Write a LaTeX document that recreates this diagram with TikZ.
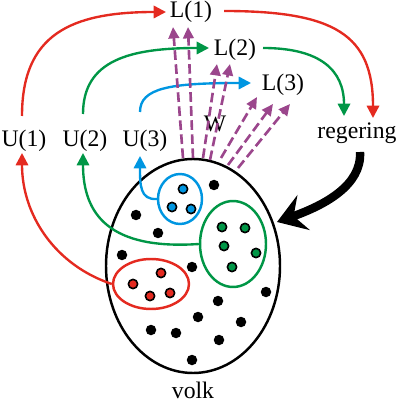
\documentclass[tikz,border=0pt]{standalone}
\usepackage{fontspec}
\setmainfont{Liberation Serif}
\usetikzlibrary{arrows.meta,shapes.geometric}
\definecolor{cred}{RGB}{228,42,32}
\definecolor{cgreen}{RGB}{0,150,70}
\definecolor{cblue}{RGB}{0,150,225}
\definecolor{cpurple}{RGB}{155,70,140}
\begin{document}
\begin{tikzpicture}[x=0.02cm,y=-0.02cm,
  lab/.style={anchor=base,inner sep=0pt,font=\fontsize{13.5}{15}\selectfont},
  con/.style={line width=1.35pt,-{Triangle[length=7pt,width=7pt]}},
  grp/.style={ellipse,draw,line width=1.4pt,inner sep=0pt},
  bdot/.style={circle,fill=black,inner sep=0pt,minimum size=0.21cm},
  cdot/.style={circle,draw=black,line width=0.9pt,inner sep=0pt,minimum size=0.185cm},
  wavearrow/.style={cpurple,line width=1.5pt,dash pattern=on 5.5pt off 2.5pt,-{Triangle[length=6.5pt,width=6pt]}}
]
\useasboundingbox (0,0) rectangle (401,401);

% big ellipse
\draw[line width=1.4pt] (193,266) ellipse [x radius=87, y radius=107];

% groups
\node[grp,draw=cblue,minimum width=0.88cm,minimum height=1.0cm] (gb) at (180,199) {};
\node[grp,draw=cgreen,minimum width=1.32cm,minimum height=1.72cm] (gg) at (233,244) {};
\node[grp,draw=cred,minimum width=1.52cm,minimum height=1.0cm] (gr) at (151,284) {};

% black dots
\foreach \p/\n in {(214,185)/a,(136,215)/b,(158,233)/c,(122,255)/d,(192,267)/e,(266,292)/f,(218,301)/g,(198,317)/h,(241,322)/i,(151,330)/j,(176,333)/k,(219,340)/l,(192,360)/m}
  \node[bdot] (d\n) at \p {};
% coloured dots
\foreach \p/\n in {(183,189)/1,(172,207)/2,(191,209)/3}
  \node[cdot,fill=cblue] (db\n) at \p {};
\foreach \p/\n in {(222,227)/1,(245,228)/2,(224,246)/3,(256,253)/4,(232,267)/5}
  \node[cdot,fill=cgreen] (dg\n) at \p {};
\foreach \p/\n in {(161,273)/1,(133,284)/2,(150,296)/3,(170,293)/4}
  \node[cdot,fill=cred] (dr\n) at \p {};

% labels
\node[lab] (L1) at (191,18) {L(1)};
\node[lab] (L2) at (235,56) {L(2)};
\node[lab] (L3) at (283,91) {L(3)};
\node[lab] (U1) at (24,147) {U(1)};
\node[lab] (U2) at (85,147) {U(2)};
\node[lab] (U3) at (145,147) {U(3)};
\node[lab] (W) at (215,132) {W};
\node[lab] (reg) at (357,139) {regering};
\node[lab] (volk) at (193,398) {volk};

% connector end points
\coordinate (u1t) at (22,116); \coordinate (u1b) at (22,153);
\coordinate (u2t) at (83,114); \coordinate (u2b) at (83,153);
\coordinate (u3t) at (140,112); \coordinate (u3b) at (140,156);
\coordinate (l1w) at (166,12); \coordinate (l1e) at (224,11);
\coordinate (l2w) at (209,48); \coordinate (l2e) at (263,48);
\coordinate (l3w) at (251,83);
\coordinate (rgr) at (373,118); \coordinate (rgg) at (344,116);
\coordinate (rgs) at (360,152); \coordinate (volkr) at (277,222);

% red
\draw[con,cred] (u1t) .. controls (22,35) and (70,12) .. (l1w);
\draw[con,cred] (l1e) .. controls (335,11) and (373,35) .. (rgr);
\draw[con,cred] (gr.west) .. controls (55,265) and (22,215) .. (u1b);
% green
\draw[con,cgreen] (u2t) .. controls (83,60) and (130,48) .. (l2w);
\draw[con,cgreen] (l2e) .. controls (320,48) and (344,70) .. (rgg);
\draw[con,cgreen] (gg.west) .. controls (110,250) and (83,215) .. (u2b);
% blue
\draw[con,cblue] (u3t) .. controls (140,88) and (170,83) .. (l3w);
\draw[con,cblue] (gb.west) .. controls (140,200) and (140,185) .. (u3b);

% purple dashed
\coordinate (p1s) at (183,158); \coordinate (p1e) at (173,27);
\coordinate (p2s) at (193,158); \coordinate (p2e) at (188,27);
\coordinate (p3s) at (203,158); \coordinate (p3e) at (217,64);
\coordinate (p4s) at (210,160); \coordinate (p4e) at (230,64);
\coordinate (p5s) at (221,158); \coordinate (p5e) at (257,97);
\coordinate (p6s) at (228,165); \coordinate (p6e) at (273,104);
\coordinate (p7s) at (238,168); \coordinate (p7e) at (290,104);
\foreach \i in {1,...,7}
  \draw[wavearrow] (p\i s) -- (p\i e);

% black thick arrow
\draw[line width=4.8pt,-{Stealth[length=16pt,width=21pt,inset=6pt]}] (rgs) .. controls (362,185) and (325,205) .. (volkr);
\end{tikzpicture}
\end{document}
